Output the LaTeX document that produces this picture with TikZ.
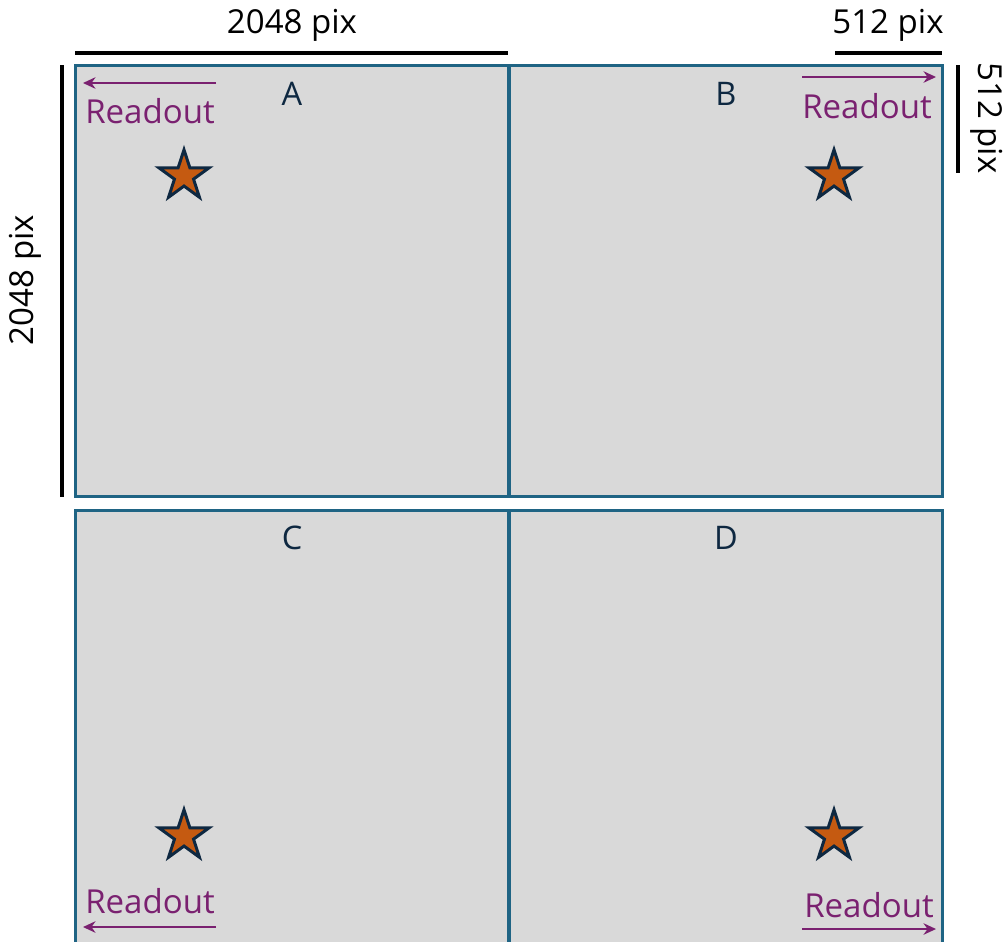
\documentclass[tikz,border=0pt]{standalone}
\usepackage{fontspec}
\setmainfont{Open Sans}
\usepackage{xcolor}
\usepackage{tikz}
\usetikzlibrary{shapes.geometric, positioning, arrows.meta}
\definecolor{DetGray}{RGB}{217,217,217}
\definecolor{DetBlue}{RGB}{31,100,132}
\definecolor{DetNavy}{RGB}{14,40,65}
\definecolor{RdPurple}{RGB}{122,33,112}
\definecolor{SrcOrange}{RGB}{197,90,17}

\begin{document}
\begin{tikzpicture}[x=0.02cm, y=-0.02cm,
      panel/.style={rectangle, draw=DetBlue, fill=DetGray, line width=1.7pt,
                    minimum width=8.68cm, inner sep=0pt},
      quad/.style={font=\fontsize{18.5}{22}\selectfont, text=DetNavy},
      rdout/.style={font=\fontsize{18.8}{22}\selectfont, text=RdPurple},
      dimlbl/.style={font=\fontsize{18.8}{22}\selectfont, text=black},
      src/.style={star, star points=5, star point ratio=2.618, minimum size=1.05cm,
                  inner sep=0pt, fill=SrcOrange, draw=DetNavy, line width=1.7pt},
      arr/.style={-{Stealth[length=0.25cm, width=0.23cm]}, draw=RdPurple, line width=1.6pt},
      dim/.style={draw=black, line width=1.8pt}
    ]
    \useasboundingbox (0,0) rectangle (1006,941);
    \clip (0,0) rectangle (1006,941);

    % detector quadrants
    \node[panel, minimum height=8.64cm] (pA) at (292,281) {};
    \node[panel, minimum height=8.64cm] (pB) at (726,281) {};
    \node[panel, minimum height=9.0cm]  (pC) at (292,735) {};
    \node[panel, minimum height=9.0cm]  (pD) at (726,735) {};

    \foreach \n/\x/\y in {A/292/94, B/726/94, C/292/538, D/726/538}{
      \node[quad] (q\n) at (\x,\y) {\n};
    }

    % sources
    \foreach \n/\x/\y in {A/184/176, B/834/176, C/184/836, D/834/836}{
      \node[src] (s\n) at (\x,\y) {};
    }

    % readout direction
    \node[rdout] (rA) at (150,111) {Readout};
    \node[rdout] (rB) at (867,106) {Readout};
    \node[rdout] (rC) at (150,901) {Readout};
    \node[rdout] (rD) at (869,905) {Readout};

    \coordinate (aA0) at (216,83);  \coordinate (aA1) at (83,83);
    \coordinate (aB0) at (802,77);  \coordinate (aB1) at (936,77);
    \coordinate (aC0) at (216,927); \coordinate (aC1) at (83,927);
    \coordinate (aD0) at (802,929); \coordinate (aD1) at (936,929);
    \draw[arr] (aA0) -- (aA1);
    \draw[arr] (aB0) -- (aB1);
    \draw[arr] (aC0) -- (aC1);
    \draw[arr] (aD0) -- (aD1);

    % sizes
    \coordinate (dT0) at (75,53);  \coordinate (dT1) at (508,53);
    \coordinate (dS0) at (835,53); \coordinate (dS1) at (942,53);
    \coordinate (dL0) at (62,65);  \coordinate (dL1) at (62,497);
    \coordinate (dR0) at (958,65); \coordinate (dR1) at (958,173);
    \draw[dim] (dT0) -- (dT1);
    \draw[dim] (dS0) -- (dS1);
    \draw[dim] (dL0) -- (dL1);
    \draw[dim] (dR0) -- (dR1);

    \node[dimlbl]             (lT) at (292,25)  {2048 pix};
    \node[dimlbl]             (lS) at (888,25)  {512 pix};
    \node[dimlbl, rotate=90]  (lL) at (25,280)  {2048 pix};
    \node[dimlbl, rotate=-90] (lR) at (987,118) {512 pix};
  \end{tikzpicture}
\end{document}
